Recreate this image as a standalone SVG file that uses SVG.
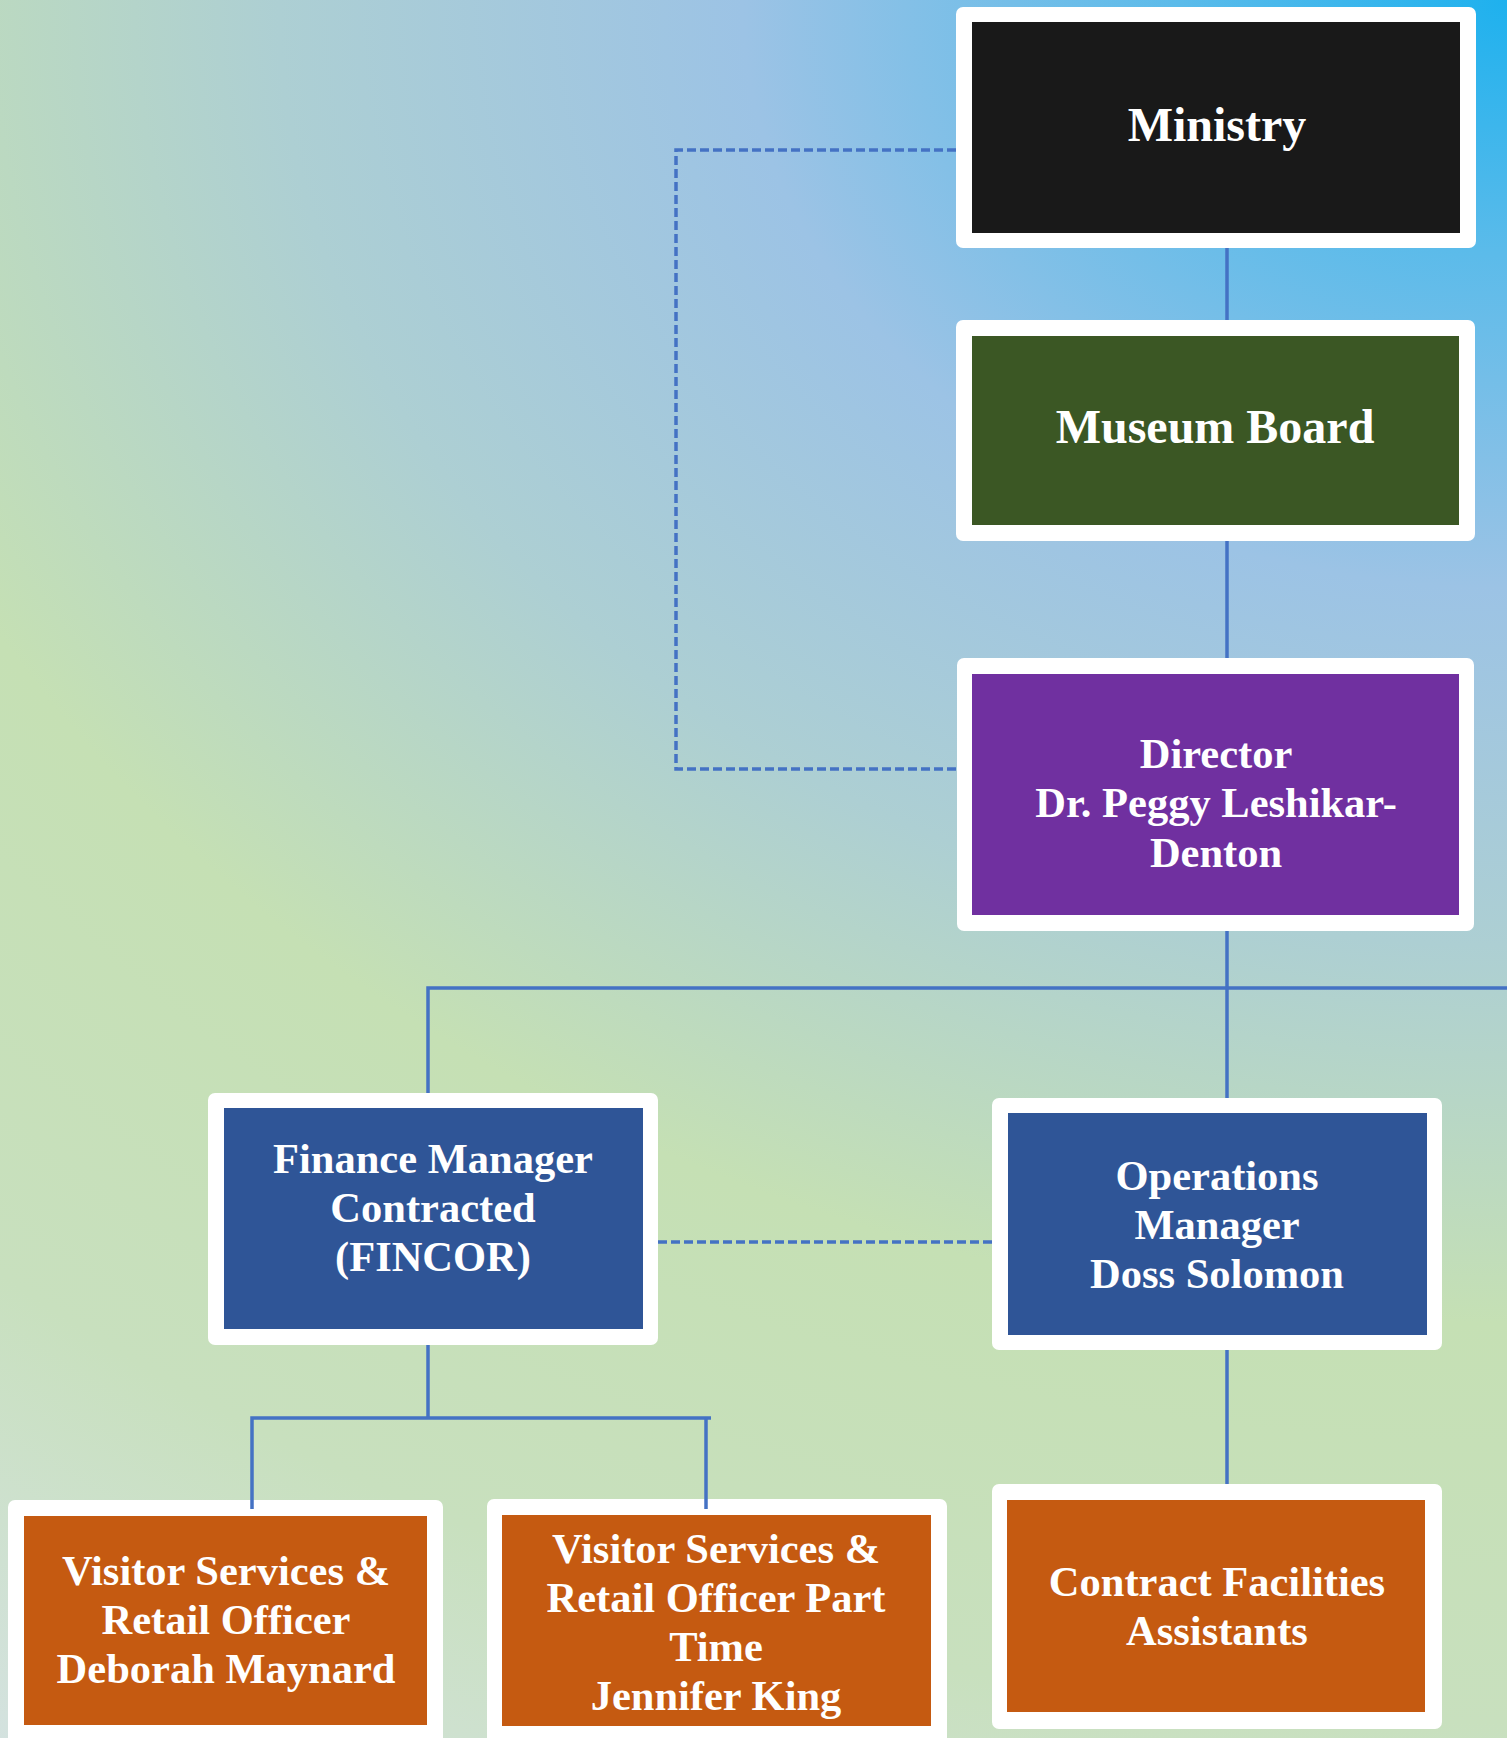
<svg xmlns="http://www.w3.org/2000/svg" width="1507" height="1738" viewBox="0 0 1507 1738">
<defs>
<radialGradient id="bg" gradientUnits="userSpaceOnUse" cx="1507" cy="0" r="2100" gradientTransform="translate(1507,0) scale(1.3,1) translate(-1507,0)">
<stop offset="0" stop-color="#1EB1EE"/>
<stop offset="0.12" stop-color="#5BBBEA"/>
<stop offset="0.28" stop-color="#9CC3E5"/>
<stop offset="0.45" stop-color="#ADCFD3"/>
<stop offset="0.63" stop-color="#C5E0B4"/>
<stop offset="0.82" stop-color="#C8E0BE"/>
<stop offset="1" stop-color="#D4E2E0"/>
</radialGradient>
<style>
.frame{fill:#FFFFFF}
.t{font-family:"Liberation Serif","Times New Roman",serif;font-weight:bold;fill:#FFFFFF;text-anchor:middle}
.big{font-size:48px}
.mid{font-size:42.5px}
.solid{stroke:#4472C4;stroke-width:3.5;fill:none}
.dash{stroke:#4472C4;stroke-width:3.5;fill:none;stroke-dasharray:9 4}
</style>
</defs>
<rect x="0" y="0" width="1507" height="1738" fill="url(#bg)"/>

<g id="ministry">
<rect class="frame" x="956" y="7" width="520" height="241" rx="7"/>
<rect x="972" y="22" width="488" height="211" fill="#191919"/>
<text class="t big" x="1217" y="141">Ministry</text>
</g>

<g id="museum-board">
<rect class="frame" x="956" y="320" width="519" height="221" rx="7"/>
<rect x="972" y="336" width="487" height="189" fill="#3B5724"/>
<text class="t big" x="1215" y="443">Museum Board</text>
</g>

<g id="director">
<rect class="frame" x="957" y="658" width="517" height="273" rx="7"/>
<rect x="972" y="674" width="487" height="241" fill="#7030A0"/>
<text class="t mid" x="1216" y="768">Director</text>
<text class="t mid" x="1216" y="817">Dr. Peggy Leshikar-</text>
<text class="t mid" x="1216" y="867">Denton</text>
</g>

<g id="finance-manager">
<rect class="frame" x="208" y="1093" width="450" height="252" rx="7"/>
<rect x="224" y="1108" width="419" height="221" fill="#2F5597"/>
<text class="t mid" x="433" y="1173">Finance Manager</text>
<text class="t mid" x="433" y="1222">Contracted</text>
<text class="t mid" x="433" y="1271">(FINCOR)</text>
</g>

<g id="operations-manager">
<rect class="frame" x="992" y="1098" width="450" height="252" rx="7"/>
<rect x="1008" y="1113" width="419" height="222" fill="#2F5597"/>
<text class="t mid" x="1217" y="1190">Operations</text>
<text class="t mid" x="1217" y="1239">Manager</text>
<text class="t mid" x="1217" y="1288">Doss Solomon</text>
</g>

<g id="visitor-services-1">
<rect class="frame" x="8" y="1500" width="435" height="245" rx="7"/>
<rect x="24" y="1516" width="403" height="209" fill="#C55A11"/>
<text class="t mid" x="226" y="1585">Visitor Services &amp;</text>
<text class="t mid" x="226" y="1634">Retail Officer</text>
<text class="t mid" x="226" y="1683">Deborah Maynard</text>
</g>

<g id="visitor-services-2">
<rect class="frame" x="487" y="1499" width="460" height="245" rx="7"/>
<rect x="502" y="1515" width="429" height="211" fill="#C55A11"/>
<text class="t mid" x="716" y="1563">Visitor Services &amp;</text>
<text class="t mid" x="716" y="1612">Retail Officer Part</text>
<text class="t mid" x="716" y="1661">Time</text>
<text class="t mid" x="716" y="1710">Jennifer King</text>
</g>

<g id="contract-facilities">
<rect class="frame" x="992" y="1484" width="450" height="245" rx="7"/>
<rect x="1007" y="1500" width="418" height="212" fill="#C55A11"/>
<text class="t mid" x="1217" y="1596">Contract Facilities</text>
<text class="t mid" x="1217" y="1645">Assistants</text>
</g>

<g id="connectors">
<path class="dash" d="M956,150 H676 V769 H957"/>
<path class="dash" d="M658,1242 H992"/>
<path class="solid" d="M1227,248 V320"/>
<path class="solid" d="M1227,541 V658"/>
<path class="solid" d="M1227,931 V1098"/>
<path class="solid" d="M428,1093 V988 H1507" stroke-width="4"/>
<path class="solid" d="M428,1345 V1418"/>
<path class="solid" d="M252,1509 V1418 H711" stroke-width="4"/>
<path class="solid" d="M706,1418 V1509"/>
<path class="solid" d="M1227,1350 V1484"/>
</g>
</svg>
